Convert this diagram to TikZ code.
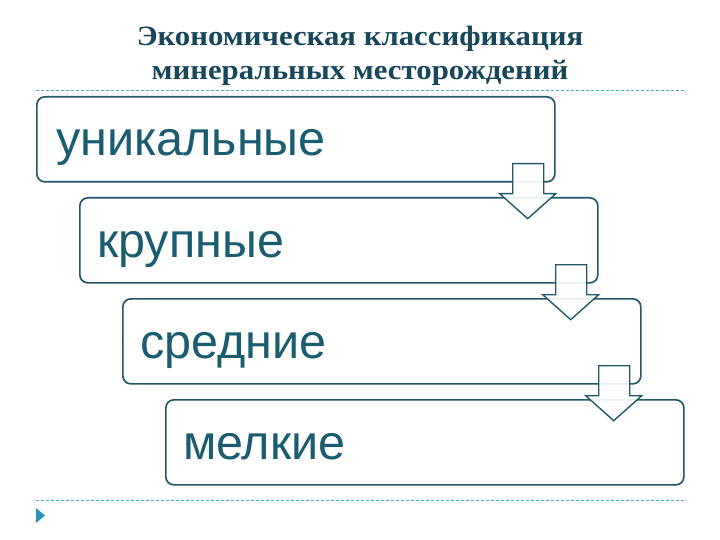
\documentclass[tikz,border=0pt]{standalone}
\usepackage{fontspec}
\setmainfont{Liberation Serif}
\newfontfamily\boxfont{Liberation Sans}
\usetikzlibrary{calc}
\definecolor{titlecol}{HTML}{17475A}
\definecolor{boxline}{HTML}{22596A}
\definecolor{boxtext}{HTML}{1A5C70}
\definecolor{dashcol}{HTML}{4AACC6}
\definecolor{markcol}{HTML}{2A93B8}
\tikzset{
  stagebox/.style={draw=boxline, line width=1.7pt, fill=white, rounded corners=8pt,
    minimum width=518pt, minimum height=85pt, anchor=north west, inner sep=0pt},
  stagetext/.style={text=boxtext, font=\boxfont\fontsize{48.5}{52}\selectfont, anchor=base west, inner sep=0pt},
  blockarrow/.style={draw=boxline, line width=1.4pt, fill=white, fill opacity=0.9, line join=miter},
  sepline/.style={draw=dashcol, line width=0.8pt, dash pattern=on 3pt off 2pt},
  titletext/.style={text=titlecol, font=\bfseries\fontsize{28}{32}\selectfont, inner sep=0pt, anchor=base, xscale=1.1}
}
\begin{document}
\begin{tikzpicture}[x=1pt,y=-1pt]
\useasboundingbox[fill=white] (0,0) rectangle (720,540);
% title
\node[titletext] (t1) at (360,46) {Экономическая классификация};
\node[titletext] (t2) at (360,80) {минеральных месторождений};
% separators
\coordinate (l1a) at (36,90); \coordinate (l1b) at (686,90);
\coordinate (l2a) at (36,500); \coordinate (l2b) at (686,500);
\draw[sepline] (l1a) -- (l1b);
\draw[sepline] (l2a) -- (l2b);
% boxes
\node[stagebox] (b1) at (36,96) {};
\node[stagebox] (b2) at (79,197) {};
\node[stagebox] (b3) at (122,298) {};
\node[stagebox] (b4) at (165,399) {};
\node[stagetext] (s1) at (56,156) {уникальные};
\node[stagetext] (s2) at (97,257) {крупные};
\node[stagetext] (s3) at (140,358) {средние};
\node[stagetext] (s4) at (183,459) {мелкие};
% arrows
\foreach \b in {b1,b2,b3}{
  \draw[blockarrow] ($(\b.south east)+(-43,-19)$) -- ++(31,0) -- ++(0,30) -- ++(12,0)
    -- ++(-28,25) -- ++(-28,-25) -- ++(13,0) -- cycle;
}
% marker
\fill[markcol] (36,508) -- (45,515.5) -- (36,523) -- cycle;
\end{tikzpicture}
\end{document}
